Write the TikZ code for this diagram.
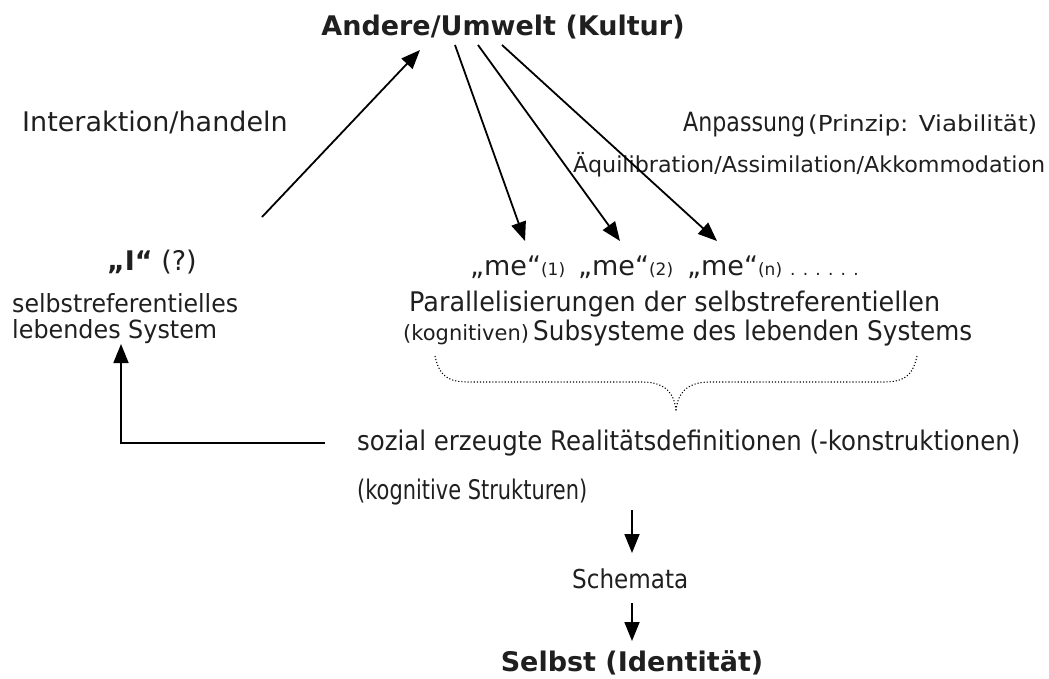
\documentclass[tikz,border=0pt]{standalone}
\usepackage{graphicx}
\usepackage{fontspec}
\setmainfont{DejaVu Sans}
\usetikzlibrary{arrows.meta}
\newcommand{\fsBig}{\fontsize{27}{28}\selectfont}
\newcommand{\fsText}{\fontsize{25}{26}\selectfont}
\newcommand{\fsMid}{\fontsize{22}{24}\selectfont}
\newcommand{\fsSmall}{\fontsize{17}{18}\selectfont}
% set a text at a given width, keeping its height
\newcommand{\fitw}[2]{\resizebox{#1pt}{\height}{#2}}
\begin{document}
\begin{tikzpicture}[x=1pt,y=-1pt,
  lbl/.style={inner sep=0pt, font=\fsBig, text=black!88, anchor=base west},
  conn/.style={line width=1.8pt, -{Triangle[length=19pt,width=15pt]}},
  bracepath/.style={line width=1.1pt, dotted}
]
\path[use as bounding box] (0,0) rectangle (1049,678);

% top and side labels
\node[lbl, anchor=base, font=\fsBig\bfseries] (andere) at (503,35) {Andere/Umwelt (Kultur)};
\node[lbl] (inter) at (22,131) {Interaktion/handeln};
\node[lbl, font=\fontsize{26.5}{28}\selectfont] (anpass) at (683,131) {\fitw{122}{Anpassung}};
\node[lbl, font=\fsMid] (prinzip) at (808,131) {\fitw{229}{(Prinzip: Viabilität)}};
\node[lbl, font=\fsMid] (aequi) at (573,172) {\fitw{472}{Äquilibration/Assimilation/Akkommodation}};

% the "I" and its description
\node[lbl] (ich) at (107,270) {\textbf{„I“} (?)};
\node[lbl, font=\fsText] (sys1) at (12,312) {\fitw{226}{selbstreferentielles}};
\node[lbl, font=\fsText] (sys2) at (12,338) {\fitw{205}{lebendes System}};

% the "me"s
\node[lbl] (me1) at (470,275) {„me“{\fsSmall(1)}};
\node[lbl] (me2) at (578,275) {„me“{\fsSmall(2)}};
\node[lbl] (me3) at (687,275) {„me“{\fsSmall(n)}};
\node[lbl, font=\fsSmall] (medots) at (790,275) {. . . . . .};
\node[lbl] (par1) at (409,311) {\fitw{531}{Parallelisierungen der selbstreferentiellen}};
\node[lbl, font=\fontsize{21}{22}\selectfont] (par2a) at (403,340) {(kognitiven)};
\node[lbl] (par2b) at (533,340) {\fitw{439}{Subsysteme des lebenden Systems}};

% lower chain
\node[lbl] (sozial) at (357,450) {\fitw{663}{sozial erzeugte Realitätsdefinitionen (-konstruktionen)}};
\node[lbl] (kogn) at (357,499) {\fitw{230}{(kognitive Strukturen)}};
\node[lbl, font=\fontsize{26}{27}\selectfont] (schema) at (572,588) {\fitw{116}{Schemata}};
\node[lbl, anchor=base, font=\fsBig\bfseries] (selbst) at (632,671) {Selbst (Identität)};

% arrow end points
\coordinate (iStart) at (262,217);
\coordinate (iEnd) at (420,50);
\coordinate (m1s) at (455,45);
\coordinate (m1e) at (525,241);
\coordinate (m2s) at (478,45);
\coordinate (m2e) at (620,241);
\coordinate (m3s) at (502,45);
\coordinate (m3e) at (717,241);
\coordinate (lStart) at (325,443);
\coordinate (lCorner) at (121,443);
\coordinate (lEnd) at (121,344);
\coordinate (s1s) at (632,510);
\coordinate (s1e) at (632,553);
\coordinate (s2s) at (632,603);
\coordinate (s2e) at (632,641);

\draw[conn] (iStart) -- (iEnd);
\draw[conn] (m1s) -- (m1e);
\draw[conn] (m2s) -- (m2e);
\draw[conn] (m3s) -- (m3e);
\draw[conn] (lStart) -- (lCorner) -- (lEnd);
\draw[conn] (s1s) -- (s1e);
\draw[conn] (s2s) -- (s2e);

% dotted curly brace
\coordinate (bl) at (435,356);
\coordinate (br) at (917,356);
\coordinate (bt) at (676,412);
\draw[bracepath] (bl) .. controls (440,380) and (452,382) .. (472,382)
  -- (642,382) .. controls (666,382) and (675,394) .. (bt);
\draw[bracepath] (br) .. controls (912,380) and (900,382) .. (880,382)
  -- (710,382) .. controls (686,382) and (677,394) .. (bt);
\end{tikzpicture}
\end{document}
